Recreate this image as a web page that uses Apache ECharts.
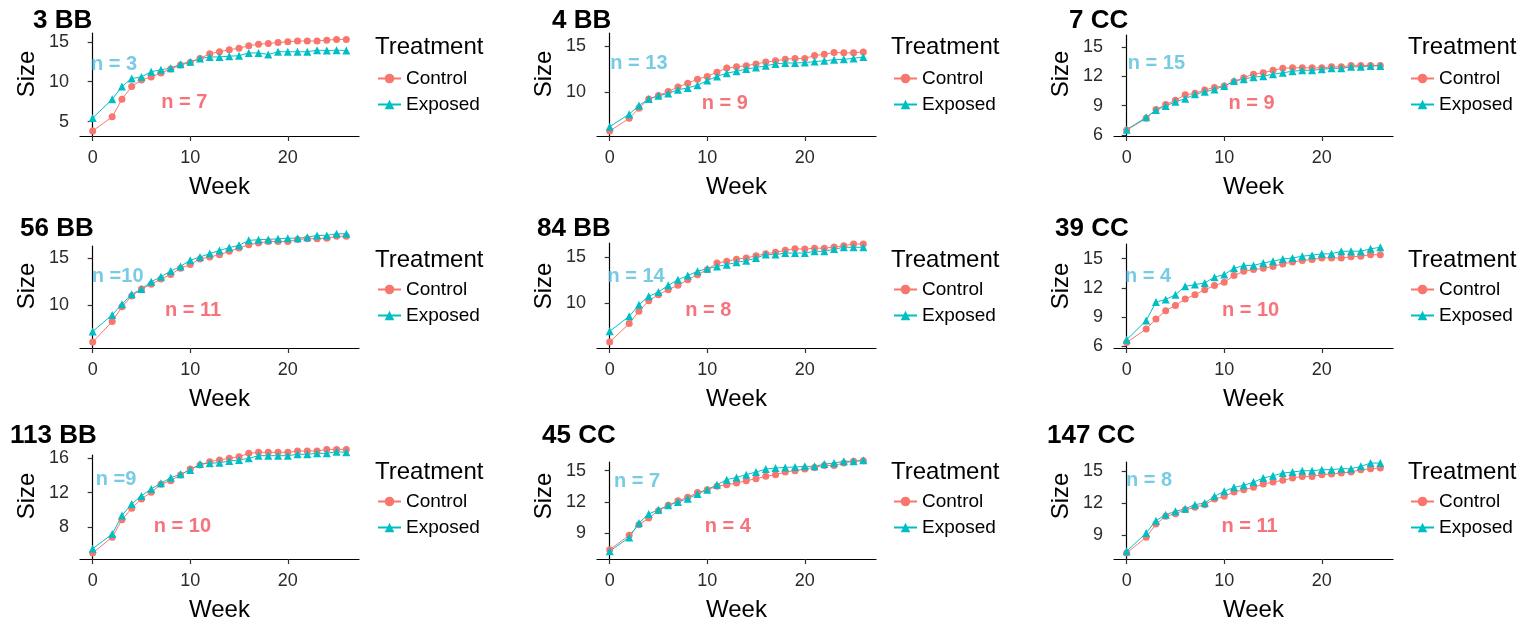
<!DOCTYPE html>
<html lang="en">
<head>
    <meta charset="UTF-8" />
    <title>Size by week</title>
    <script src="https://cdn.jsdelivr.net/npm/echarts@6.0.0/dist/echarts.min.js"></script>
    <style>html, body { margin: 0; padding: 0; background: #fff; }</style>
</head>
<body>
    <div id="main" style="width: 1527px; height: 624px"></div>
    <script>
        // weeks measured (week 1 is missing in every panel)
        var weeks = [0, 2, 3, 4, 5, 6, 7, 8, 9, 10, 11, 12, 13, 14, 15, 16, 17, 18, 19, 20, 21, 22, 23, 24, 25, 26]

        var panelNames = ['3 BB', '4 BB', '7 CC', '56 BB', '84 BB', '39 CC', '113 BB', '45 CC', '147 CC']

        var control3BB = [3.83, 5.6, 7.8, 9.4, 10.2, 10.6, 11.1, 11.6, 12.1, 12.4, 12.9, 13.5, 13.75, 14.0, 14.2, 14.5, 14.7, 14.8, 14.9, 15.0, 15.1, 15.1, 15.1, 15.2, 15.3, 15.3]
        var exposed3BB = [5.45, 7.8, 9.4, 10.4, 10.6, 11.25, 11.5, 11.7, 12.2, 12.5, 12.9, 13.1, 13.1, 13.2, 13.25, 13.6, 13.6, 13.4, 13.75, 13.75, 13.75, 13.75, 13.95, 13.9, 13.95, 13.9]

        var control4BB = [5.83, 7.2, 8.3, 9.3, 9.67, 10.1, 10.6, 11.0, 11.45, 11.75, 12.2, 12.65, 12.8, 12.9, 13.1, 13.3, 13.45, 13.6, 13.7, 13.7, 14.0, 14.15, 14.35, 14.3, 14.3, 14.4]
        var exposed4BB = [6.3, 7.65, 8.6, 9.3, 9.65, 9.9, 10.3, 10.5, 10.8, 11.3, 11.75, 12.1, 12.3, 12.55, 12.7, 12.9, 13.1, 13.2, 13.2, 13.25, 13.35, 13.45, 13.55, 13.6, 13.7, 13.85]

        var control7CC = [6.5, 7.7, 8.6, 9.1, 9.55, 10.1, 10.25, 10.6, 10.85, 11.0, 11.45, 11.85, 12.2, 12.35, 12.6, 12.8, 12.85, 12.85, 12.85, 12.85, 12.95, 12.95, 13.1, 13.1, 13.1, 13.1]
        var exposed7CC = [6.55, 7.8, 8.55, 8.95, 9.4, 9.7, 10.15, 10.4, 10.65, 11.0, 11.5, 11.7, 11.9, 12.0, 12.2, 12.35, 12.5, 12.6, 12.6, 12.7, 12.8, 12.8, 12.95, 12.95, 13.05, 13.05]

        var control56BB = [6.05, 8.24, 9.8, 10.95, 11.7, 12.2, 12.75, 13.25, 13.9, 14.3, 14.9, 15.1, 15.35, 15.7, 16.05, 16.4, 16.6, 16.75, 16.75, 16.75, 16.95, 17.05, 17.05, 17.1, 17.3, 17.3]
        var exposed56BB = [7.18, 8.94, 10.07, 11.13, 11.7, 12.46, 13.0, 13.6, 14.1, 14.75, 15.1, 15.46, 15.8, 16.1, 16.34, 16.87, 16.94, 16.97, 17.04, 17.1, 17.1, 17.2, 17.4, 17.4, 17.57, 17.57]

        var control84BB = [5.73, 7.74, 9.1, 10.25, 10.9, 11.46, 11.93, 12.55, 13.1, 13.65, 14.38, 14.56, 14.8, 14.93, 15.18, 15.4, 15.55, 15.77, 15.95, 15.9, 16.0, 16.0, 16.13, 16.28, 16.46, 16.46]
        var exposed84BB = [6.9, 8.54, 9.8, 10.73, 11.2, 11.93, 12.55, 13.0, 13.47, 13.76, 14.0, 14.2, 14.45, 14.63, 14.93, 15.3, 15.3, 15.47, 15.47, 15.47, 15.66, 15.66, 15.9, 16.1, 16.1, 16.1]

        var control39CC = [6.4, 7.78, 8.8, 9.66, 10.2, 10.86, 11.3, 11.8, 12.23, 12.58, 13.26, 13.7, 13.88, 14.0, 14.2, 14.46, 14.66, 14.8, 14.9, 15.07, 15.07, 15.07, 15.18, 15.25, 15.4, 15.4]
        var exposed39CC = [6.68, 8.64, 10.55, 10.8, 11.3, 12.16, 12.34, 12.5, 13.1, 13.37, 14.0, 14.3, 14.3, 14.56, 14.73, 14.97, 15.07, 15.25, 15.35, 15.49, 15.49, 15.76, 15.76, 15.76, 16.0, 16.17]

        var control113BB = [5.0, 6.84, 8.85, 10.2, 11.28, 12.05, 12.98, 13.4, 14.06, 14.76, 15.22, 15.6, 15.8, 15.99, 16.19, 16.57, 16.69, 16.69, 16.69, 16.69, 16.84, 16.84, 16.84, 17.03, 17.03, 17.03]
        var exposed113BB = [5.5, 7.19, 9.35, 10.7, 11.63, 12.44, 13.1, 13.75, 14.14, 14.64, 15.34, 15.41, 15.49, 15.68, 15.8, 15.99, 16.3, 16.3, 16.3, 16.3, 16.46, 16.46, 16.57, 16.57, 16.76, 16.69]

        var control45CC = [7.4, 8.78, 9.8, 10.44, 11.15, 11.66, 12.1, 12.43, 12.9, 13.17, 13.49, 13.65, 13.8, 14.03, 14.22, 14.45, 14.6, 14.87, 15.0, 15.15, 15.31, 15.5, 15.5, 15.73, 15.9, 15.96]
        var exposed45CC = [7.24, 8.58, 9.96, 10.83, 11.24, 11.66, 11.98, 12.3, 12.75, 13.17, 13.65, 14.13, 14.35, 14.61, 14.87, 15.15, 15.25, 15.31, 15.35, 15.41, 15.41, 15.63, 15.73, 15.9, 15.9, 15.99]

        var control147CC = [7.34, 8.81, 10.06, 10.78, 11.03, 11.4, 11.63, 11.88, 12.4, 12.66, 13.06, 13.28, 13.5, 13.81, 14.0, 14.16, 14.38, 14.53, 14.53, 14.69, 14.75, 14.84, 14.94, 15.16, 15.25, 15.31]
        var exposed147CC = [7.5, 9.22, 10.38, 10.94, 11.25, 11.5, 11.88, 12.03, 12.66, 13.13, 13.5, 13.69, 14.0, 14.38, 14.59, 14.84, 14.94, 15.06, 15.06, 15.16, 15.16, 15.25, 15.25, 15.47, 15.78, 15.78]

        var controlSets = [control3BB, control4BB, control7CC, control56BB, control84BB, control39CC, control113BB, control45CC, control147CC]
        var exposedSets = [exposed3BB, exposed4BB, exposed7CC, exposed56BB, exposed84BB, exposed39CC, exposed113BB, exposed45CC, exposed147CC]

        // sample sizes written on each panel, with their spot in [week, size]
        var nExposed = ['n = 3', 'n = 13', 'n = 15', 'n =10', 'n = 14', 'n = 4', 'n =9', 'n = 7', 'n = 8']
        var nExposedAt = [[2.2, 12.2], [3.0, 13.2], [3.05, 13.3], [2.56, 13.0], [2.7, 12.9], [2.2, 13.2], [2.4, 13.5], [2.8, 14.0], [2.3, 14.1]]
        var nControl = ['n = 7', 'n = 9', 'n = 9', 'n = 11', 'n = 8', 'n = 10', 'n = 10', 'n = 4', 'n = 11']
        var nControlAt = [[9.4, 7.4], [11.8, 8.84], [12.8, 9.23], [10.3, 9.37], [10.1, 9.16], [12.7, 9.66], [9.2, 8.08], [12.1, 9.64], [12.6, 9.84]]

        // axis limits and tick labels
        var yMin = [3.2, 5.29, 5.9, 5.42, 5.07, 5.83, 4.3, 6.5, 6.78]
        var yMax = [16.1, 16.45, 16.2, 16.27, 16.57, 16.5, 16.38, 15.83, 15.88]
        var yTicks = [[5, 10, 15], [10, 15], [6, 9, 12, 15], [10, 15], [10, 15], [6, 9, 12, 15], [8, 12, 16], [9, 12, 15], [9, 12, 15]]
        var xTicks = [0, 10, 20]

        // layout (px)
        var colLeft = [80, 597, 1114]
        var plotW = 279
        var panelTop = [33, 33, 35, 246, 243, 244, 455, 462, 462]
        var rowBottom = [136, 348, 559]
        var titleLeft = [33, 552, 1069, 20, 537, 1055, 10, 542, 1047]
        var titleMid = [21, 229, 436]
        var sizeMid = [74, 286, 496]
        var legendLeft = [377, 893, 1410]
        var legendTitleMid = [47, 260, 472]
        var legendItemMid = [77, 288, 500]

        var FONT = "'Liberation Sans', Arial, sans-serif"
        var RED = '#F8766D', TEAL = '#00BFC4'

        var chart = echarts.init(document.getElementById('main'))
        var grids = [], xAxes = [], yAxes = [], series = [], legends = [], graphics = []

        for (var i = 0; i < 9; i++) {
            var col = i % 3, row = Math.floor(i / 3)
            grids.push({ left: colLeft[col], top: panelTop[i], width: plotW, height: rowBottom[row] - panelTop[i] })
            xAxes.push({
                type: 'value', gridIndex: i, min: -1.3, max: 27.3,
                name: 'Week', nameLocation: 'middle', nameGap: 39,
                nameTextStyle: { fontFamily: FONT, fontSize: 24, color: '#000' },
                axisLine: { lineStyle: { color: '#000', width: 1.2 } },
                axisTick: { length: 5, customValues: xTicks, lineStyle: { color: '#333', width: 1.2 } },
                axisLabel: { customValues: xTicks, margin: 13, fontFamily: FONT, fontSize: 18, color: '#2b2b2b' },
                splitLine: { show: false }
            })
            yAxes.push({
                type: 'value', gridIndex: i, min: yMin[i], max: yMax[i],
                axisLine: { show: true, lineStyle: { color: '#000', width: 1.2 } },
                axisTick: { show: true, length: 5, customValues: yTicks[i], lineStyle: { color: '#333', width: 1.2 } },
                axisLabel: { customValues: yTicks[i], margin: 11, fontFamily: FONT, fontSize: 18, color: '#2b2b2b' },
                splitLine: { show: false }
            })
            var cData = [], eData = []
            for (var k = 0; k < weeks.length; k++) {
                cData.push([weeks[k], controlSets[i][k]])
                eData.push([weeks[k], exposedSets[i][k]])
            }
            series.push({
                name: 'Control', type: 'line', xAxisIndex: i, yAxisIndex: i, data: cData,
                symbol: 'circle', symbolSize: 7, clip: false, animation: false,
                lineStyle: { color: RED, width: 1 }, itemStyle: { color: RED }
            })
            series.push({
                name: 'Exposed', type: 'line', xAxisIndex: i, yAxisIndex: i, data: eData,
                symbol: 'triangle', symbolSize: 8, clip: false, animation: false,
                lineStyle: { color: TEAL, width: 1 }, itemStyle: { color: TEAL }
            })
            // n labels, placed through the panel's own axes
            series.push({
                name: 'n', type: 'scatter', xAxisIndex: i, yAxisIndex: i, silent: true, animation: false,
                symbolSize: 2, itemStyle: { color: 'rgba(0,0,0,0)' },
                data: [
                    { value: nExposedAt[i], label: { formatter: nExposed[i], color: '#55BEDF' } },
                    { value: nControlAt[i], label: { formatter: nControl[i], color: '#F4505A' } }
                ],
                label: { show: true, position: 'inside', fontFamily: FONT, fontSize: 20, fontWeight: 'bold' }
            })
            graphics.push({
                type: 'text', x: titleLeft[i], y: titleMid[row],
                style: { text: panelNames[i], font: 'bold 26px ' + FONT, fill: '#000', verticalAlign: 'middle' }
            })
            graphics.push({
                type: 'text', x: colLeft[col] - 53, y: sizeMid[row], rotation: Math.PI / 2,
                style: { text: 'Size', font: '24px ' + FONT, fill: '#000', align: 'center', verticalAlign: 'middle' }
            })
            graphics.push({
                type: 'text', x: legendLeft[col] - 2, y: legendTitleMid[row],
                style: { text: 'Treatment', font: '24px ' + FONT, fill: '#000', verticalAlign: 'middle' }
            })
        }
        for (var r = 0; r < 3; r++) {
            for (var c = 0; c < 3; c++) {
                legends.push({
                    data: ['Control', 'Exposed'], orient: 'vertical',
                    left: legendLeft[c], top: legendItemMid[r] - 8, padding: 0,
                    itemWidth: 23, itemHeight: 12, itemGap: 7,
                    selectedMode: false,
                    textStyle: { fontFamily: FONT, fontSize: 19, color: '#000' }
                })
            }
        }

        chart.setOption({
            animation: false,
            grid: grids, xAxis: xAxes, yAxis: yAxes,
            series: series, legend: legends, graphic: graphics
        })
    </script>
</body>
</html>
